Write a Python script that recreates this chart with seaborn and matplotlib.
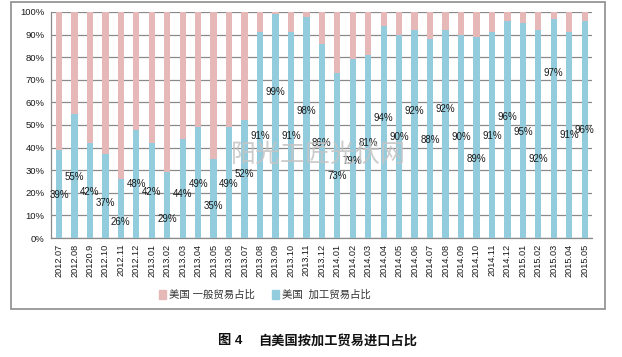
import matplotlib
matplotlib.use("Agg")
import matplotlib.pyplot as plt
import matplotlib.patches as mpatches
import numpy as np
import pandas as pd
import seaborn as sns

months = ["2012.07", "2012.08", "20120.9", "2012.10", "2012.11", "2012.12",
          "2013.01", "2013.02", "2013.03", "2013.04", "2013.05", "2013.06",
          "2013.07", "2013.08", "2013.09", "2013.10", "2013.11", "2013.12",
          "2014.01", "2014.02", "2014.03", "2014.04", "2014.05", "2014.06",
          "2014.07", "2014.08", "2014.09", "2014.10", "2014.11", "2014.12",
          "2015.01", "2015.02", "2015.03", "2015.04", "2015.05"]
processing = [39, 55, 42, 37, 26, 48, 42, 29, 44, 49, 35, 49, 52, 91, 99, 91, 98, 86,
              73, 79, 81, 94, 90, 92, 88, 92, 90, 89, 91, 96, 95, 92, 97, 91, 96]
general = [61, 45, 58, 63, 74, 52, 58, 71, 56, 51, 65, 51, 48, 9, 1, 9, 2, 14,
           27, 21, 19, 6, 10, 8, 12, 8, 10, 11, 9, 4, 5, 8, 3, 9, 4]
# heights (in %) at which the data labels sit in the reference
label_y = [19, 27, 20.5, 15.5, 7, 24, 20.5, 8.5, 19.5, 24, 14, 24, 28.5, 45, 64.5, 45, 56, 42,
           27.5, 34, 42, 53, 44.5, 56, 43.5, 57, 44.5, 35, 45, 53.5, 47, 35, 73, 45.5, 48]
series_names = ["美国 一般贸易占比", "美国  加工贸易占比"]
caption_no = "图 4"
caption = "自美国按加工贸易进口占比"
watermark = "阳光工匠光伏网"

BLUE = "#93CDDD"
PINK = "#E6B9B8"
GRID = "#8a8a8a"

sns.set_style("white")
plt.rcParams["font.family"] = ["Liberation Sans", "Noto Sans CJK SC", "DejaVu Sans"]

df = pd.DataFrame({"month": months, "processing": processing, "general": general})
df["total"] = df["processing"] + df["general"]

fig = plt.figure(figsize=(6.22, 3.57), dpi=100)
ax = fig.add_axes([51.3 / 622, 1 - 238 / 357, (592.4 - 51.3) / 622, (238 - 12) / 357])

sns.barplot(data=df, x="month", y="total", color=PINK, width=0.41, saturation=1,
            ax=ax, zorder=2, edgecolor="none")
sns.barplot(data=df, x="month", y="processing", color=BLUE, width=0.41, saturation=1,
            ax=ax, zorder=3, edgecolor="none")

for i, (v, ly) in enumerate(zip(processing, label_y)):
    ax.text(i, ly, f"{v}%", ha="center", va="center", fontsize=7, color="#1a1a1a", zorder=5)

ax.set_xlim(-0.5, len(months) - 0.5)
ax.set_ylim(0, 100)
ax.set_yticks(np.arange(0, 101, 10))
ax.set_yticklabels([f"{t}%" for t in range(0, 101, 10)], fontsize=6.8, color="#1a1a1a")
ax.set_xticks(range(len(months)))
ax.set_xticklabels(months, rotation=90, fontsize=6.6, color="#1a1a1a")
ax.set_xticks(np.arange(-0.5, len(months), 1), minor=True)
ax.tick_params(axis="x", which="major", length=0, pad=4)
ax.tick_params(axis="x", which="minor", length=3, width=0.8, color=GRID)
ax.tick_params(axis="y", which="major", length=3, width=0.8, color=GRID, pad=2)
ax.set_xlabel("")
ax.set_ylabel("")
ax.yaxis.grid(True, color=GRID, linewidth=0.9, zorder=0)
ax.set_axisbelow(True)
for s in ["top", "right"]:
    ax.spines[s].set_visible(False)
for s in ["left", "bottom"]:
    ax.spines[s].set_color(GRID)
    ax.spines[s].set_linewidth(0.9)

handles = [mpatches.Patch(color=PINK, label=series_names[0]),
           mpatches.Patch(color=BLUE, label=series_names[1])]
fig.legend(handles=handles, loc="center", bbox_to_anchor=(265 / 622, 1 - 295 / 357),
           ncol=2, frameon=False, fontsize=7.5, handlelength=0.7, handleheight=1.0,
           handletextpad=0.3, columnspacing=1.6, labelcolor="#333333")

fig.text(318 / 622, 1 - 155 / 357, watermark, ha="center", va="center", fontsize=18,
         color="#c4c4c4", alpha=0.85, zorder=10)

fig.patches.append(mpatches.Rectangle((10.5 / 622, 1 - 309 / 357), (605 - 10.5) / 622,
                                      (309 - 2) / 357, transform=fig.transFigure,
                                      fill=False, edgecolor="#8c8c8c", linewidth=1.2))

fig.text(218 / 622, 1 - 341 / 357, caption_no, ha="left", va="center", fontsize=9.5,
         fontweight="bold", color="#111111")
fig.text(258 / 622, 1 - 341 / 357, caption, ha="left", va="center", fontsize=9.5,
         fontweight="bold", color="#111111")

fig.savefig("out.png", dpi=100)
